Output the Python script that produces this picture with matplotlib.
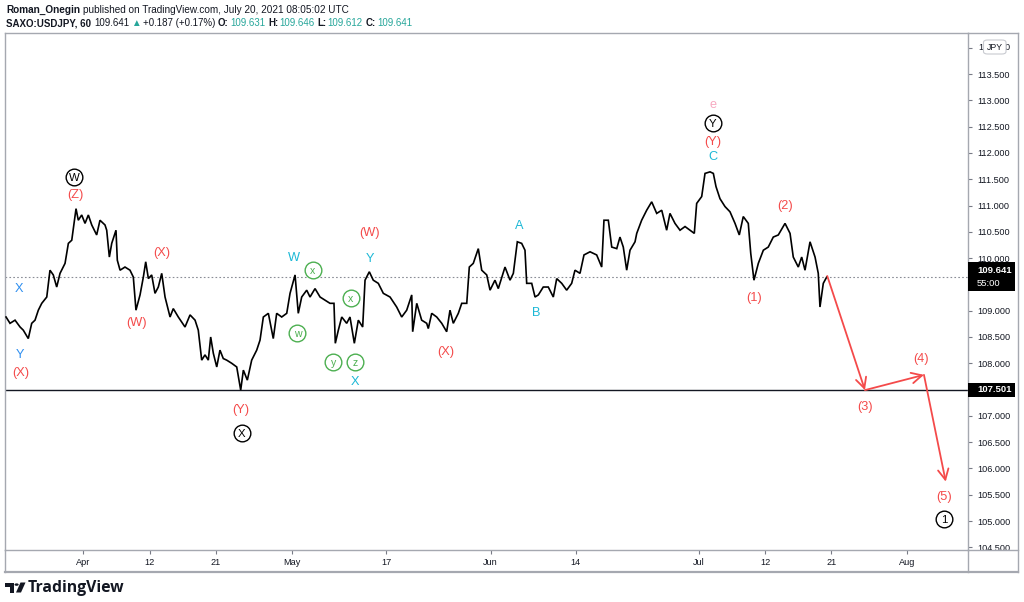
import matplotlib
matplotlib.use("Agg")
import matplotlib.pyplot as plt
from matplotlib.patches import Rectangle, Polygon, Circle, FancyBboxPatch
from matplotlib.lines import Line2D

# ---------------- data (trading-day index, 0 = Apr 1 2021) ----------------
days = [-8.16, -7.74, -7.21, -6.68, -6.34, -5.81, -5.45, -5.10, -4.75, -4.39,
        -3.86, -3.52, -3.17, -2.81, -2.46, -1.93, -1.58, -1.22, -0.77, -0.53,
        -0.17, 0.18, 0.53, 0.89, 1.41, 1.76, 2.29, 2.47, 2.75, 3.00,
        3.45, 3.59, 3.88, 4.40, 4.93, 5.28, 5.56, 5.99, 6.34, 6.59,
        6.87, 7.22, 7.57, 7.92, 8.28, 8.63, 9.16, 9.50, 10.03, 10.74,
        11.27, 11.80, 12.14, 12.50, 12.85, 13.20, 13.45, 13.73, 14.09, 14.43,
        14.78, 15.14, 15.67, 16.20, 16.62, 16.90, 17.32, 17.78, 18.31, 18.66,
        19.01, 19.54, 20.06, 20.42, 20.95, 21.48, 21.83, 22.36, 22.70, 23.06,
        23.59, 23.94, 24.47, 25.00, 25.52, 26.05, 26.47, 26.61, 26.93, 27.29,
        27.81, 28.16, 28.62, 29.04, 29.50, 29.75, 30.20, 30.62, 31.15, 31.68,
        32.39, 33.09, 33.62, 34.15, 34.68, 34.78, 35.21, 35.73, 36.26,
        36.43, 36.79, 37.32, 37.85, 38.37, 38.72, 39.07, 39.60, 39.96, 40.49,
        40.76, 41.18, 41.71, 42.07, 42.60, 42.95, 43.47, 43.82, 44.53, 45.06,
        45.41, 45.83, 46.29, 46.64, 46.82, 47.35, 47.70, 48.05, 48.57, 49.10,
        49.63, 49.99, 50.52, 51.04, 51.57, 51.92, 52.45, 52.87, 53.51, 54.21,
        54.74, 54.98, 55.44, 55.80, 56.33, 56.67, 57.02, 57.38, 57.73, 58.26,
        58.44, 58.96, 59.49, 60.02, 60.55, 61.08, 61.60, 61.95, 62.48, 63.01,
        63.54, 64.06, 64.52, 64.77, 65.30, 65.65, 66.18, 66.53, 66.81, 67.23,
        67.76, 68.29, 68.82, 69.27, 69.69, 70.22, 70.48, 70.82, 71.28, 71.81,
        72.33, 72.86, 73.39, 74.10, 74.63, 74.97, 75.50, 75.86, 76.21, 76.74,
        77.27, 77.61, 77.79, 78.14, 78.50]

prices = [108.88, 108.76, 108.82, 108.69, 108.63, 108.47, 108.76, 108.82, 109.01, 109.14,
          109.26, 109.77, 109.68, 109.45, 109.71, 109.90, 110.28, 110.34, 110.94, 110.72,
          110.82, 110.66, 110.82, 110.63, 110.44, 110.72, 110.63, 110.53, 110.02, 110.28,
          110.53, 109.96, 109.77, 109.83, 109.77, 109.64, 109.01, 109.30, 109.64, 109.93,
          109.61, 109.68, 109.33, 109.45, 109.71, 109.26, 108.88, 109.04, 108.88, 108.69,
          108.92, 108.82, 108.63, 108.06, 108.16, 108.06, 108.50, 108.19, 107.93, 108.25,
          108.09, 108.06, 108.00, 107.93, 107.49, 107.87, 107.68, 108.06, 108.25, 108.44,
          108.88, 108.95, 108.47, 108.95, 108.88, 108.95, 109.33, 109.68, 108.95, 109.26,
          109.39, 109.26, 109.42, 109.26, 109.20, 109.14, 109.14, 108.38, 108.63, 108.88,
          108.76, 108.88, 108.38, 108.82, 108.69, 109.58, 109.74, 109.58, 109.52, 109.33,
          109.26, 109.07, 108.88, 109.01, 109.30, 108.60, 109.14, 108.82, 108.76,
          108.66, 108.95, 108.88, 108.76, 108.60, 109.01, 108.76, 108.95, 109.14, 109.14,
          109.83, 109.90, 110.18, 109.77, 109.68, 109.39, 109.58, 109.42, 109.83, 109.58,
          109.71, 110.31, 110.28, 110.15, 109.52, 109.52, 109.26, 109.30, 109.45, 109.45,
          109.26, 109.61, 109.52, 109.39, 109.52, 109.77, 109.71, 110.06, 110.12, 110.06,
          109.83, 110.72, 110.72, 110.21, 110.18, 110.40, 110.21, 109.77, 110.15, 110.31,
          110.47, 110.72, 110.91, 111.07, 110.85, 110.91, 110.53, 110.85, 110.66, 110.53,
          110.60, 110.53, 110.47, 111.04, 111.17, 111.61, 111.64, 111.61, 111.36, 111.13,
          110.98, 110.88, 110.66, 110.44, 110.79, 110.66, 110.09, 109.58, 109.90, 110.15,
          110.21, 110.40, 110.44, 110.66, 110.47, 110.02, 109.83, 110.02, 109.77, 110.31,
          110.02, 109.71, 109.07, 109.52, 109.64]

last_price = 109.641
support_level = 107.501

proj_days = [78.56, 82.54, 88.77, 91.07]
proj_prices = [109.66, 107.49, 107.78, 105.75]

tick_days = [0, 7, 14, 22, 32, 43, 52, 65, 72, 79, 87]
tick_labels = ["Apr", "12", "21", "May", "17", "Jun", "14", "Jul", "12", "21", "Aug"]

price_ticks = [104.5, 105.0, 105.5, 106.0, 106.5, 107.0, 107.5, 108.0, 108.5, 109.0,
               109.5, 110.0, 110.5, 111.0, 111.5, 112.0, 112.5, 113.0, 113.5, 114.0]
# tick labels hidden behind the price boxes / currency badge
hidden_ticks = [107.5, 109.5, 114.0]

RED = "#f44a4a"
BLUE = "#2f8ff0"
CYAN = "#1cb8d6"
GREEN = "#4caf50"
PINK = "#f7a8c0"
DARK = "#131722"

label_texts = ["X", "Y", "(X)", "(Z)", "(X)", "(W)", "(Y)", "W", "(W)", "Y", "X", "(X)",
               "A", "B", "e", "(Y)", "C", "(2)", "(1)", "(3)", "(4)", "(5)"]
label_days = [-6.79, -6.68, -6.58, -0.88, 8.28, 5.64, 16.62, 22.25, 30.27, 30.27, 28.69, 38.27,
              46.0, 47.8, 66.46, 66.46, 66.46, 74.13, 70.82, 82.54, 88.43, 90.92]
label_prices = [109.42, 108.16, 107.81, 111.20, 110.09, 108.76, 107.12, 110.01, 110.47, 109.99, 107.65, 108.22,
                110.61, 108.95, 112.91, 112.20, 111.93, 110.99, 109.25, 107.17, 108.08, 105.45]
label_colors = [BLUE, BLUE, RED, RED, RED, RED, RED, CYAN, RED, CYAN, CYAN, RED,
                CYAN, CYAN, PINK, RED, CYAN, RED, RED, RED, RED, RED]

circ_texts = ["W", "X", "Y", "1", "x", "w", "x", "y", "z"]
circ_days = [-0.98, 16.73, 66.46, 90.89, 24.22, 22.60, 28.23, 26.40, 28.69]
circ_prices = [111.55, 106.68, 112.56, 105.03, 109.77, 108.58, 109.25, 108.02, 108.02]
circ_colors = ["#000000", "#000000", "#000000", "#000000", GREEN, GREEN, GREEN, GREEN, GREEN]

FONT = ["Liberation Sans", "DejaVu Sans"]
plt.rcParams["font.family"] = FONT

# ---------------- figure ----------------
W, H = 1024, 602
fig = plt.figure(figsize=(W / 100, H / 100), dpi=100)
fig.patch.set_facecolor("white")


def fx(px):
    return px / W


def fy(py):
    return 1 - py / H


AX_L, AX_R, AX_T, AX_B = 5, 967.7, 33, 550
ax = fig.add_axes([fx(AX_L), fy(AX_B), fx(AX_R) - fx(AX_L), fy(AX_T) - fy(AX_B)])
ax.set_facecolor("white")
ax.set_xlim(-8.27, 93.39)
ax.set_ylim(104.45, 114.28)

GRID = "#a5a8b0"
for s in ax.spines.values():
    s.set_color(GRID)
    s.set_linewidth(1)

ax.yaxis.tick_right()
ax.set_yticks(price_ticks)
ax.set_yticklabels(["" if v in hidden_ticks else f"{v:.3f}" for v in price_ticks])
ax.tick_params(axis="y", length=3, width=0.8, color="#787b86", labelsize=6.6,
               labelcolor=DARK, pad=4)
ax.set_xticks(tick_days)
ax.set_xticklabels(tick_labels)
ax.tick_params(axis="x", length=3, width=0.8, color="#787b86", labelsize=6.6,
               labelcolor=DARK, pad=3)

# price series
ax.plot(days, prices, color="#000000", lw=1.2, solid_joinstyle="miter", zorder=3)

# horizontal lines
ax.axhline(support_level, color=DARK, lw=1.0, zorder=2)
ax.axhline(last_price, color="#8a8d96", lw=0.8, ls=(0, (1.5, 2)), zorder=2)

# projection arrows
for i in range(len(proj_days) - 1):
    ax.annotate("", xy=(proj_days[i + 1], proj_prices[i + 1]),
                xytext=(proj_days[i], proj_prices[i]),
                arrowprops=dict(arrowstyle="->,head_length=0.75,head_width=0.38",
                                color="#f44a4a", lw=1.3, shrinkA=0, shrinkB=0),
                zorder=4)

# wave labels
for t, d, p, c in zip(label_texts, label_days, label_prices, label_colors):
    ax.text(d, p, t, color=c, fontsize=9.2, ha="center", va="center", zorder=5)

for t, d, p, c in zip(circ_texts, circ_days, circ_prices, circ_colors):
    ax.plot([d], [p], marker="o", markersize=12.0, mfc="white", mec=c, mew=1.0, zorder=5)
    ax.text(d, p, t, color=c, fontsize=8.2 if c != GREEN else 7.6, ha="center",
            va="center_baseline", zorder=6)


# ---------------- right axis price boxes ----------------
def price_to_py(p):
    disp = ax.transData.transform((0, p))
    return H - disp[1]


py_last = price_to_py(last_price)
fig.patches.append(Rectangle((fx(968), fy(py_last + 14.5)), fx(1015) - fx(968), 29 / H,
                             transform=fig.transFigure, facecolor="#000000", edgecolor="none", zorder=5))
fig.text(fx(977), fy(py_last - 6.5), f"{last_price:.3f}", color="white", fontsize=6.8,
         fontweight="bold", ha="left", va="center", zorder=6)
fig.text(fx(977), fy(py_last + 6.5), "55:00", color="white", fontsize=6.8,
         ha="left", va="center", zorder=6)

py_sup = price_to_py(support_level)
fig.patches.append(Rectangle((fx(968), fy(py_sup + 7)), fx(1015) - fx(968), 14 / H,
                             transform=fig.transFigure, facecolor="#000000", edgecolor="none", zorder=5))
fig.text(fx(977), fy(py_sup), f"{support_level:.3f}", color="white", fontsize=6.8,
         fontweight="bold", ha="left", va="center", zorder=6)

# JPY badge (partly covers the top price tick, as in the original)
fig.text(fx(978), fy(47), "1", color=DARK, fontsize=6.6, ha="left", va="center")
fig.text(fx(1010), fy(47), "0", color=DARK, fontsize=6.6, ha="right", va="center")
fig.patches.append(FancyBboxPatch((fx(983.5), fy(54)), fx(1006) - fx(983.5), 14 / H,
                                  boxstyle="round,pad=0,rounding_size=0.004",
                                  transform=fig.transFigure, facecolor="white",
                                  edgecolor="#c8cad0", lw=0.8, zorder=5))
fig.text(fx(994.7), fy(47), "JPY", color=DARK, fontsize=6.3, ha="center", va="center", zorder=6)


# ---------------- frame lines ----------------
def fline(x0, y0, x1, y1, lw=1.0, color=GRID):
    fig.lines.append(Line2D([fx(x0), fx(x1)], [fy(y0), fy(y1)], transform=fig.transFigure,
                            color=color, lw=lw, zorder=4))


fline(AX_R, AX_B, 1018, AX_B)
fline(AX_R, AX_B, AX_R, 572)
fline(AX_L, AX_B, AX_L, 572)
fline(1018, AX_T, 1018, 572)
fline(AX_R, AX_T, 1018, AX_T)
fline(AX_L, 572, 1018, 572, lw=1.6)

# ---------------- header ----------------
renderer = fig.canvas.get_renderer()


def chain(parts, x_px, y_px, size):
    x = x_px
    for txt, color, weight, gap in parts:
        t = fig.text(fx(x), fy(y_px), txt, color=color, fontsize=size, fontweight=weight,
                     ha="left", va="center")
        bb = t.get_window_extent(renderer=renderer)
        x = bb.x1 + gap


chain([("Roman_Onegin", DARK, "bold", 3),
       ("published on TradingView.com, July 20, 2021 08:05:02 UTC", DARK, "normal", 0)],
      6, 10, 7.2)

TEAL = "#26a69a"
chain([("SAXO:USDJPY, 60", DARK, "bold", 3),
       ("109.641", DARK, "normal", 2),
       ("\u25B2", TEAL, "normal", 2),
       ("+0.187 (+0.17%)", DARK, "normal", 3),
       ("O:", DARK, "bold", 1), ("109.631", TEAL, "normal", 3),
       ("H:", DARK, "bold", 1), ("109.646", TEAL, "normal", 3),
       ("L:", DARK, "bold", 1), ("109.612", TEAL, "normal", 3),
       ("C:", DARK, "bold", 1), ("109.641", TEAL, "normal", 0)],
      6, 23, 7.0)

# ---------------- footer logo ----------------
logo = "#131722"
fig.patches.append(Polygon([(fx(5), fy(582.5)), (fx(14), fy(582.5)), (fx(14), fy(592.5)),
                            (fx(9.5), fy(592.5)), (fx(9.5), fy(586.5)), (fx(5), fy(586.5))],
                           closed=True, transform=fig.transFigure, facecolor=logo, edgecolor="none"))
fig.patches.append(Circle((fx(16.6), fy(584.6)), 2.1 / W, transform=fig.transFigure,
                          facecolor=logo, edgecolor="none"))
fig.patches.append(Polygon([(fx(20.5), fy(582.5)), (fx(25.5), fy(582.5)), (fx(21), fy(592.5)),
                            (fx(16), fy(592.5))],
                           closed=True, transform=fig.transFigure, facecolor=logo, edgecolor="none"))
fig.text(fx(28), fy(587.5), "TradingView", color=logo, fontsize=11.3, fontweight="bold",
         ha="left", va="center", family=["Open Sans", "DejaVu Sans"])

fig.savefig("out.png", dpi=100, facecolor="white")
